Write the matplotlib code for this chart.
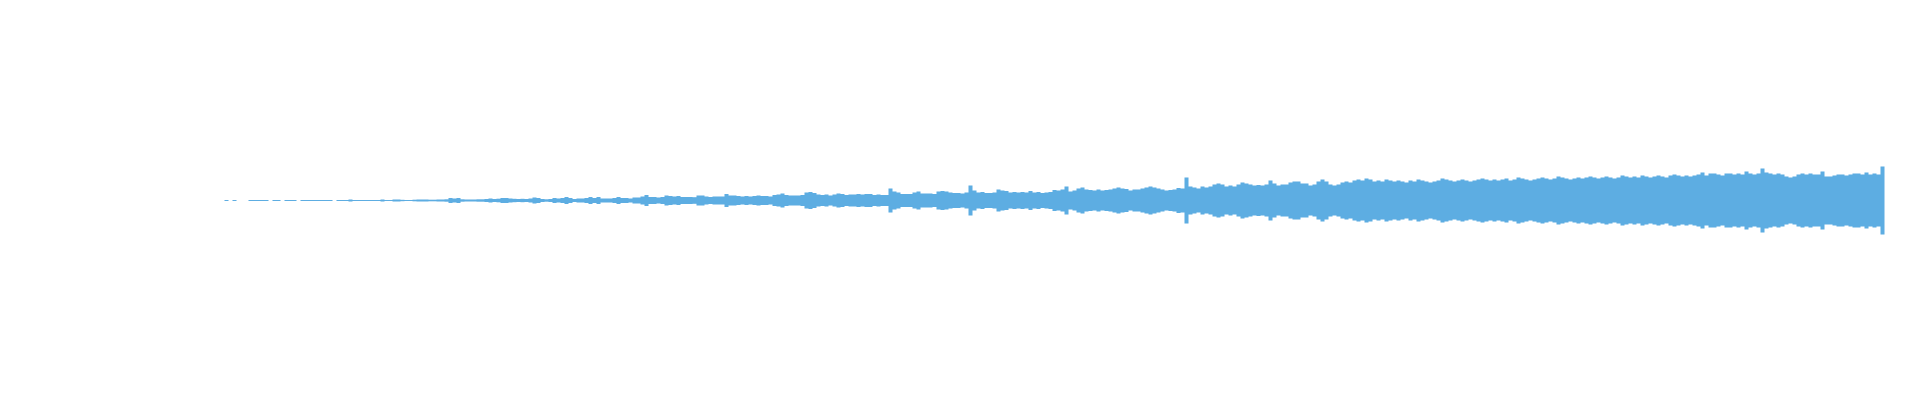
import matplotlib
matplotlib.use("Agg")
import matplotlib.pyplot as plt
import numpy as np

# peak amplitude of the waveform, one value per block of samples
amp_intro = [0, .5, 0, .5, 0, 0, 0, .5, .5, .5, .5, .5, 0, .5, .5, 0, .5, .5, .5, 0,
             .5, .5, .5, .5, .5, .5, .5, .5, 0, .5, .5, .5, 1, .5, .5]
amp_quiet = [.5, .5, .5, .5, .5, 1, .5, .5, 1, 1, .7, .5, .5, .8, 1, 1, 1, .8, .8, 1,
             1, 1.2, 2.5, 2, 2.5, 1.2, 1, 1, 1, 1.2, 1.2, 1.5, 2, 1.5, 1.8]
amp_soft1 = [2.5, 2.5, 2, 1.7, 1.5, 1.7, 1.5, 2, 3, 2.5, 1.5, 1.2, 1.5, 2.5, 2, 2.5, 3.5, 2.5, 1.5, 2,
             2, 2.5, 3.5, 2.5, 3.5, 2, 2, 2, 2.5, 3.5, 2.5, 2.5, 2, 3, 3]
amp_soft2 = [4, 5.5, 3.5, 3.5, 3, 3.5, 5, 4.5, 4, 4.5, 3.5, 3.5, 3.5, 3.3, 5, 5, 4, 3.5, 4, 4,
             4, 6.5, 5, 5, 4.5, 4, 4.5, 4, 4.5, 5, 4.5, 4.5, 4, 5.5, 6]
amp_mid1 = [7, 5.5, 5, 5, 5, 5.5, 8, 8.5, 7.5, 6, 5.5, 6, 5, 6, 7, 6.5, 5.5, 6, 6, 6.5,
            6, 6.5, 6.5, 5.5, 6, 5.5, 5.5, 12, 9, 8, 6.5, 6.5, 6.5, 8, 9]
amp_mid2 = [7, 7, 7, 6.5, 9, 9.5, 9, 8, 7.5, 7.5, 7, 8, 15, 10, 8, 8.5, 7.5, 7.5, 8, 11,
            10, 9.5, 8, 8.5, 8, 8.5, 8, 9.5, 8, 8.5, 7.5, 8, 8.5, 10.5, 10]
amp_loud1 = [11, 14, 9, 10, 12, 13, 11, 10.5, 10, 11, 10, 10.5, 11, 12, 13, 12, 11.5, 10, 11, 11,
             12, 13, 14, 13, 12, 11, 10, 10.5, 11, 12.5, 12, 23, 14, 13, 12]
amp_loud2 = [14, 13, 14, 16, 17, 16, 14, 15, 14, 16, 18, 17, 16, 15, 15.5, 15, 16, 20, 17, 15,
             16, 16, 18, 19, 19, 17, 17, 15, 16, 19, 21, 19, 16, 15, 16]
amp_loud3 = [18, 19, 18, 20, 21, 20, 22, 21, 19, 20, 19, 21, 20, 19, 20]
amp_full1 = [19, 18, 20, 19, 21, 20, 19, 18, 19, 20, 22, 21, 20, 19, 20, 21, 20, 19, 20, 21,
             22, 21, 20, 21, 20,
             21, 22, 20, 21, 23, 22, 21, 20, 21, 22, 23, 22, 21, 22, 24, 23, 22, 21, 22, 23,
             22, 23, 24, 23, 22,
             23, 24, 23, 22, 23, 25, 24, 23, 24, 23, 25, 24, 23, 24, 25, 24, 23, 25, 26, 25,
             24, 25, 24, 25, 26]
amp_full2 = [28, 25, 27, 27, 26, 25, 27, 27, 26, 27, 26, 29, 27, 26, 27, 32, 28, 27, 26, 27,
             26, 24, 23, 24, 26, 27, 26, 27, 26, 26, 29, 24, 24, 25, 26, 26, 25, 26, 27, 27,
             26, 28, 26, 27, 26, 34]

amp = np.array(amp_intro + amp_quiet + amp_soft1 + amp_soft2 + amp_mid1 + amp_mid2
               + amp_loud1 + amp_loud2 + amp_loud3 + amp_full1 + amp_full2, dtype=float)
n = len(amp)
edges = np.arange(n + 1)
a = np.append(amp, amp[-1])

fig = plt.figure(figsize=(19.2, 4), dpi=100)
ax = fig.add_axes([0, 0, 1, 1])
ax.fill_between(edges, -a, a, step="post", color="#5DADE2", linewidth=0)
# each block is 4 px wide, waveform starts 220 px from the left
ax.set_xlim(-55, 425)
ax.set_ylim(-200, 200)
ax.axis("off")

fig.savefig("out.png", dpi=100, facecolor="white")
